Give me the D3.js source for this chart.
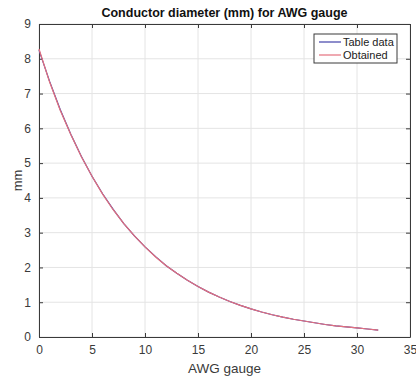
<!DOCTYPE html>
<html>
<head>
<meta charset="utf-8">
<script src="https://cdn.jsdelivr.net/npm/d3@7"></script>
<style>
  body { margin: 0; background: #fff; }
  text { font-family: "Liberation Sans", Arial, sans-serif; }
</style>
</head>
<body>
<div id="graph"></div>
<script>
// AWG gauge numbers and conductor diameters (mm)
var gauges = [0, 1, 2, 3, 4, 5, 6, 7, 8, 9, 10, 11, 12, 13, 14, 15, 16,
    17, 18, 19, 20, 21, 22, 23, 24, 25, 26, 27, 28, 29, 30, 31, 32]
var tableData = [8.25, 7.35, 6.54, 5.83, 5.19, 4.62, 4.12, 3.67, 3.26, 2.91,
    2.59, 2.31, 2.05, 1.83, 1.63, 1.45, 1.29, 1.15, 1.02, 0.91, 0.81, 0.72,
    0.64, 0.57, 0.51, 0.46, 0.41, 0.36, 0.32, 0.29, 0.26, 0.23, 0.20]
var obtained = [8.28, 7.33, 6.52, 5.82, 5.18, 4.62, 4.11, 3.66, 3.26, 2.91,
    2.59, 2.30, 2.05, 1.83, 1.63, 1.45, 1.29, 1.15, 1.02, 0.91, 0.81, 0.72,
    0.64, 0.57, 0.51, 0.46, 0.41, 0.36, 0.32, 0.29, 0.26, 0.23, 0.20]
var xTicks = [0, 5, 10, 15, 20, 25, 30, 35]
var yTicks = [0, 1, 2, 3, 4, 5, 6, 7, 8, 9]

var margin = { top: 24, right: 6, bottom: 44, left: 39 },
    W = 416, H = 381,
    width = W - margin.left - margin.right,
    height = H - margin.top - margin.bottom;

var x = d3.scaleLinear().domain([0, 35]).range([0, width])
var y = d3.scaleLinear().domain([0, 9]).range([height, 0])

var root = d3.select("#graph").append("svg")
    .attr("width", W)
    .attr("height", H)
var svg = root.append("g")
    .attr("transform", "translate(" + margin.left + "," + margin.top + ")")

// grid
svg.append("g")
    .selectAll("line.vg")
    .data(xTicks)
    .enter().append("line")
    .attr("x1", d => x(d)).attr("x2", d => x(d))
    .attr("y1", 0).attr("y2", height)
    .attr("stroke", "#e4e4e4").attr("stroke-width", 1)
svg.append("g")
    .selectAll("line.hg")
    .data(yTicks)
    .enter().append("line")
    .attr("y1", d => y(d)).attr("y2", d => y(d))
    .attr("x1", 0).attr("x2", width)
    .attr("stroke", "#e4e4e4").attr("stroke-width", 1)

// axes, MATLAB style ticks pointing inward
function styleAxis(g) {
    g.select(".domain").attr("stroke", "#3a3a3a")
    g.selectAll(".tick line").attr("stroke", "#3a3a3a")
    g.selectAll(".tick text").attr("fill", "#3a3a3a").style("font-size", "12px")
}
svg.append("g")
    .attr("transform", "translate(0," + height + ")")
    .call(d3.axisBottom(x).tickValues(xTicks).tickSizeInner(-4).tickSizeOuter(0).tickPadding(8))
    .call(styleAxis)
svg.append("g")
    .call(d3.axisLeft(y).tickValues(yTicks).tickSizeInner(-4).tickSizeOuter(0).tickPadding(8))
    .call(styleAxis)
svg.append("g")
    .call(d3.axisTop(x).tickValues(xTicks).tickSizeInner(-4).tickSizeOuter(0).tickFormat(""))
    .call(styleAxis)
svg.append("g")
    .attr("transform", "translate(" + width + ",0)")
    .call(d3.axisRight(y).tickValues(yTicks).tickSizeInner(-4).tickSizeOuter(0).tickFormat(""))
    .call(styleAxis)

// lines
var line = d3.line()
    .x((d, i) => x(gauges[i]))
    .y(d => y(d))
svg.append("path")
    .datum(tableData)
    .attr("d", line)
    .attr("fill", "none")
    .attr("stroke", "#4040a8")
    .attr("stroke-width", 1.2)
svg.append("path")
    .datum(obtained)
    .attr("d", line)
    .attr("fill", "none")
    .attr("stroke", "#e4707c")
    .attr("stroke-width", 1.2)

// legend
var lg = svg.append("g").attr("transform", "translate(" + (314 - margin.left) + "," + (34 - margin.top) + ")")
lg.append("rect")
    .attr("width", 83).attr("height", 29)
    .attr("fill", "#fff").attr("stroke", "#3a3a3a")
var items = [["Table data", "#4040a8"], ["Obtained", "#e4707c"]]
items.forEach((it, i) => {
    var yy = 8 + i * 13
    lg.append("line")
        .attr("x1", 5).attr("x2", 27)
        .attr("y1", yy).attr("y2", yy)
        .attr("stroke", it[1]).attr("stroke-width", 1.2)
    lg.append("text")
        .attr("x", 29).attr("y", yy + 4)
        .attr("fill", "#222")
        .style("font-size", "11px")
        .text(it[0])
})

// title and labels
root.append("text")
    .attr("x", margin.left + width / 2).attr("y", 17)
    .attr("text-anchor", "middle")
    .attr("fill", "#111")
    .style("font-size", "12.5px").style("font-weight", "bold")
    .text("Conductor diameter (mm) for AWG gauge")
root.append("text")
    .attr("x", margin.left + width / 2).attr("y", 373)
    .attr("text-anchor", "middle")
    .attr("fill", "#3a3a3a")
    .style("font-size", "13.5px")
    .text("AWG gauge")
root.append("text")
    .attr("transform", "translate(22," + (margin.top + height / 2) + ") rotate(-90)")
    .attr("text-anchor", "middle")
    .attr("fill", "#3a3a3a")
    .style("font-size", "13px")
    .text("mm")
</script>
</body>
</html>
